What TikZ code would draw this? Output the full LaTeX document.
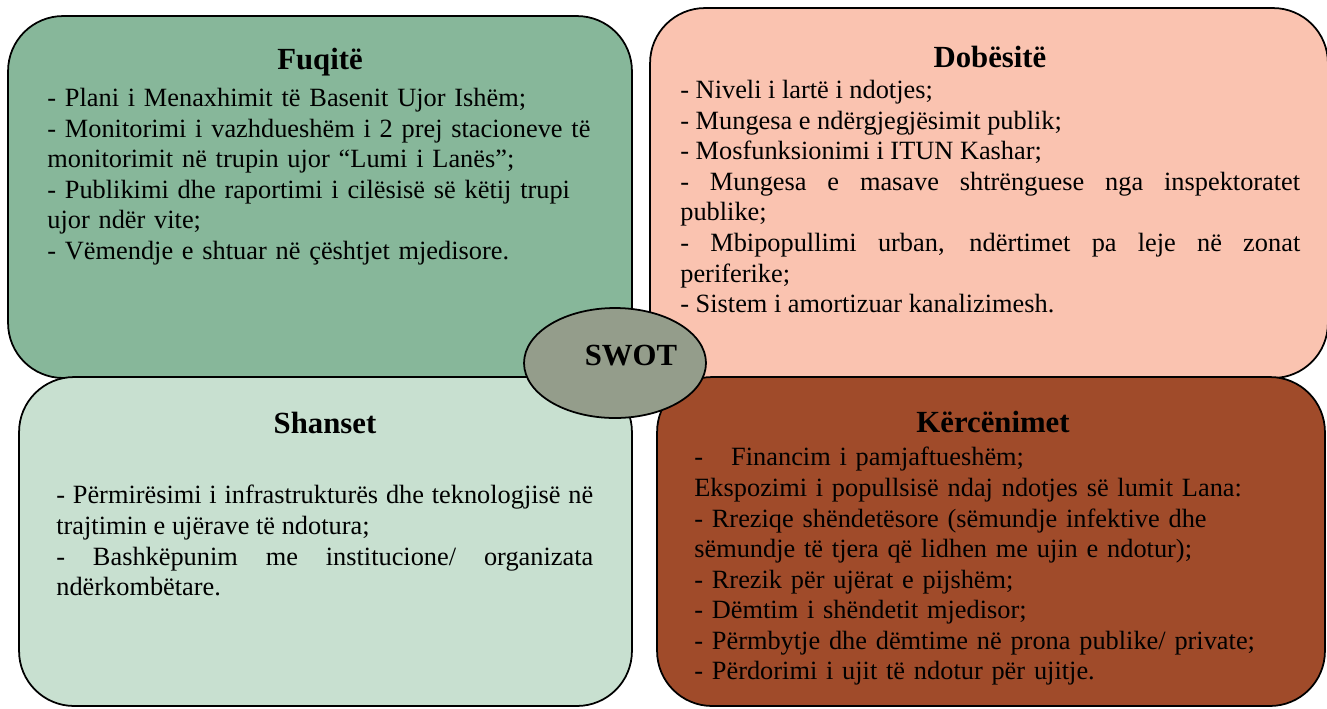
\documentclass[tikz,border=0pt]{standalone}
\usepackage{fontspec}
\setmainfont{Liberation Serif}
\usetikzlibrary{shapes.geometric}
\definecolor{fuqColor}{RGB}{135,183,154}
\definecolor{dobColor}{RGB}{250,195,176}
\definecolor{shaColor}{RGB}{200,224,208}
\definecolor{kerColor}{RGB}{160,75,42}
\definecolor{swotColor}{RGB}{148,157,139}
\begin{document}
\begin{tikzpicture}
[x=0.02cm,y=-0.02cm,%
  quadDecorate/.style={draw,line width=1pt,rounded corners=1.1cm},%
  titleDecorate/.style={font=\fontsize{17.5}{20}\selectfont\bfseries,inner sep=0pt},%
  textDecorate/.style={font=\fontsize{15}{17.4}\selectfont,inner sep=0pt,anchor=north west},%
  swotDecorate/.style={shape=ellipse,draw,line width=1pt,fill=swotColor,
    minimum width=3.64cm,minimum height=2.2cm,inner sep=0pt,
    font=\fontsize{17.5}{20}\selectfont\bfseries}]
\useasboundingbox (0,0) rectangle (1327,708);
%% the four quadrants
\foreach \boxname/\x/\y/\w/\h/\col in {
  fuq/320/197/12.48/7.24/fuqColor, dob/989/193/13.56/7.4/dobColor,
  sha/325.5/541.5/12.26/6.58/shaColor, ker/991/541.5/13.36/6.58/kerColor}
{
  \node (\boxname) at (\x,\y) [quadDecorate,fill=\col,minimum width=\w cm,minimum height=\h cm] {};
}
%% titles
\node (fuqTitle) at (320,62) [titleDecorate] {Fuqitë};
\node (dobTitle) at (990,57) [titleDecorate] {Dobësitë};
\node (shaTitle) at (325,423) [titleDecorate] {Shanset};
\node (kerTitle) at (993,422) [titleDecorate] {Kërcënimet};
%% lists
\node (fuqText) at (47,88) [textDecorate,text width=11.8cm,align=left]
  {- Plani i Menaxhimit të Basenit Ujor Ishëm;\\
   - Monitorimi i vazhdueshëm i 2 prej stacioneve të\\
   monitorimit në trupin ujor “Lumi i Lanës”;\\
   - Publikimi dhe raportimi i cilësisë së këtij trupi\\
   ujor ndër vite;\\
   - Vëmendje e shtuar në çështjet mjedisore.};
\node (dobText) at (680,80) [textDecorate,text width=12.4cm,align=justify]
  {- Niveli i lartë i ndotjes;\\
   - Mungesa e ndërgjegjësimit publik;\\
   - Mosfunksionimi i ITUN Kashar;\\
   - Mungesa e masave shtrënguese nga inspektoratet\linebreak publike;\\
   - Mbipopullimi urban, ndërtimet pa leje në zonat\linebreak periferike;\\
   - Sistem i amortizuar kanalizimesh.};
\node (shaText) at (56,485) [textDecorate,text width=10.74cm,align=justify]
  {- Përmirësimi i infrastrukturës dhe teknologjisë në\linebreak trajtimin e ujërave të ndotura;\\
   - Bashkëpunim me institucione/ organizata\linebreak ndërkombëtare.};
\node (kerText) at (694,447) [textDecorate,text width=12cm,align=left]
  {-\hspace{16pt}Financim i pamjaftueshëm;\\
   Ekspozimi i popullsisë ndaj ndotjes së lumit Lana:\\
   - Rreziqe shëndetësore (sëmundje infektive dhe\\
   sëmundje të tjera që lidhen me ujin e ndotur);\\
   - Rrezik për ujërat e pijshëm;\\
   - Dëmtim i shëndetit mjedisor;\\
   - Përmbytje dhe dëmtime në prona publike/ private;\\
   - Përdorimi i ujit të ndotur për ujitje.};
%% centre
\node (swot) at (615,363) [swotDecorate] {\hspace*{0.64cm}\raisebox{0.3cm}{SWOT}};
\end{tikzpicture}
\end{document}
